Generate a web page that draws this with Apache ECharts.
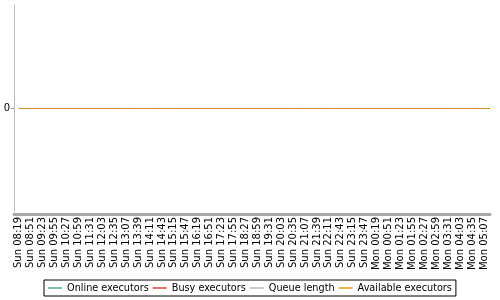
<!DOCTYPE html>
<html><head><meta charset="utf-8">
<script src="https://cdn.jsdelivr.net/npm/echarts@6/dist/echarts.min.js"></script>
<style>html,body{margin:0;padding:0;background:#fff}#c{width:500px;height:300px}</style>
</head><body><div id="c"></div>
<script>
const tickLabels = ['Sun 08:19','Sun 08:51','Sun 09:23','Sun 09:55','Sun 10:27','Sun 10:59','Sun 11:31','Sun 12:03','Sun 12:35','Sun 13:07','Sun 13:39','Sun 14:11','Sun 14:43','Sun 15:15','Sun 15:47','Sun 16:19','Sun 16:51','Sun 17:23','Sun 17:55','Sun 18:27','Sun 18:59','Sun 19:31','Sun 20:03','Sun 20:35','Sun 21:07','Sun 21:39','Sun 22:11','Sun 22:43','Sun 23:15','Sun 23:47','Mon 00:19','Mon 00:51','Mon 01:23','Mon 01:55','Mon 02:27','Mon 02:59','Mon 03:31','Mon 04:03','Mon 04:35','Mon 05:07'];
// minutes after Sun 08:19
const tickMinutes = [0,32,64,96,128,160,192,224,256,288,320,352,384,416,448,480,512,544,576,608,640,672,704,736,768,800,832,864,896,928,960,992,1024,1056,1088,1120,1152,1184,1216,1248];
const sampleMinutes = [0,32,64,96,128,160,192,224,256,288,320,352,384,416,448,480,512,544,576,608,640,672,704,736,768,800,832,864,896,928,960,992,1024,1056,1088,1120,1152,1184,1216,1248,1264];
const onlineExecutors = [0,0,0,0,0,0,0,0,0,0,0,0,0,0,0,0,0,0,0,0,0,0,0,0,0,0,0,0,0,0,0,0,0,0,0,0,0,0,0,0,0];
const busyExecutors = [0,0,0,0,0,0,0,0,0,0,0,0,0,0,0,0,0,0,0,0,0,0,0,0,0,0,0,0,0,0,0,0,0,0,0,0,0,0,0,0,0];
const queueLength = [0,0,0,0,0,0,0,0,0,0,0,0,0,0,0,0,0,0,0,0,0,0,0,0,0,0,0,0,0,0,0,0,0,0,0,0,0,0,0,0,0];
const availableExecutors = [0,0,0,0,0,0,0,0,0,0,0,0,0,0,0,0,0,0,0,0,0,0,0,0,0,0,0,0,0,0,0,0,0,0,0,0,0,0,0,0,0];
const seriesNames = ['Online executors','Busy executors','Queue length','Available executors'];
const seriesColors = ['#6db38f','#e06666','#c0c0c0','#d98c30'];
const legendColors = ['#7fbf9f','#e87070','#c8c8c8','#f0b050'];
const seriesValues = [onlineExecutors, busyExecutors, queueLength, availableExecutors];

const chart = echarts.init(document.getElementById('c'), null, {renderer:'canvas'});
const font = 'DejaVu Sans';
chart.setOption({
  animation: false,
  textStyle: {fontFamily: font},
  grid: {left: 14, right: 9, top: 5, bottom: 88, containLabel: false},
  legend: {
    left: 44, top: 280, padding: [3, 4, 3, 4], itemGap: 4,
    borderColor: '#000', borderWidth: 1, borderRadius: 0,
    icon: 'rect', itemWidth: 14, itemHeight: 2,
    textStyle: {fontFamily: font, fontSize: 9.7, color: '#000'},
    data: seriesNames.map((n, k) => ({name: n, itemStyle: {color: legendColors[k]}}))
  },
  xAxis: [{
    type: 'value', min: -13, max: 1267,
    splitLine: {show: false},
    axisLine: {show: false},
    axisTick: {show: false},
    axisLabel: {
      customValues: tickMinutes, rotate: 90, margin: 5,
      fontSize: 10, color: '#000', fontFamily: font,
      formatter: v => { const i = tickMinutes.indexOf(v); return i >= 0 ? tickLabels[i] : ''; }
    }
  }, {
    type: 'value', min: -13, max: 1267, position: 'bottom', offset: 2,
    splitLine: {show: false},
    axisLabel: {show: false},
    axisTick: {show: false},
    axisLine: {show: true, onZero: false, lineStyle: {color: '#a8a8a8', width: 3, type: [2, 1]}}
  }],
  yAxis: {
    type: 'value', min: -1, max: 1,
    splitLine: {show: false},
    axisLine: {show: true, onZero: false, lineStyle: {color: '#bdbdbd', width: 1}},
    axisTick: {show: true, customValues: [0], length: 3, lineStyle: {color: '#999'}},
    axisLabel: {customValues: [0], margin: 4, fontSize: 10, color: '#000', fontFamily: font}
  },
  series: seriesNames.map((n, k) => ({
    name: n, type: 'line', showSymbol: false, symbol: 'none',
    color: seriesColors[k],
    lineStyle: {width: 1, color: seriesColors[k]},
    data: sampleMinutes.map((m, i) => [m, seriesValues[k][i]])
  }))
});
</script></body></html>
